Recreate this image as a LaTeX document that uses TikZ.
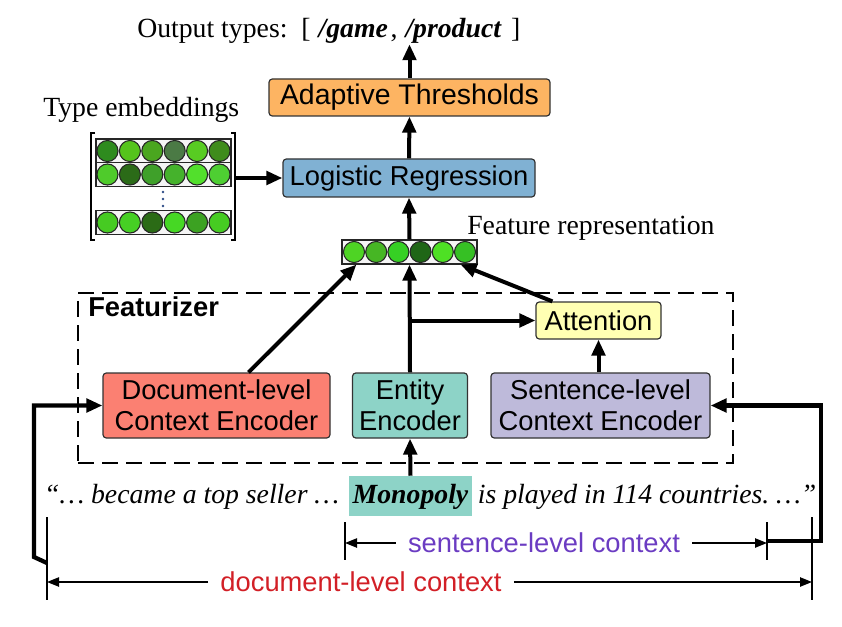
\documentclass[tikz,border=0pt]{standalone}
\usepackage{fontspec}
\setmainfont{Liberation Serif}
\setsansfont{Liberation Sans}
\usetikzlibrary{arrows.meta,calc}
\definecolor{cAdapt}{HTML}{FDB462}
\definecolor{cLog}{HTML}{80B1D3}
\definecolor{cDoc}{HTML}{FB8072}
\definecolor{cEnt}{HTML}{8DD3C7}
\definecolor{cSent}{HTML}{BEBADA}
\definecolor{cAttn}{HTML}{FFFFB3}
\definecolor{cPurp}{HTML}{6B3CC2}
\definecolor{cRed}{HTML}{D21F26}
\definecolor{cDot}{HTML}{2B4A86}
\definecolor{gA}{HTML}{2E8B1E}\definecolor{gB}{HTML}{55C41C}\definecolor{gC}{HTML}{4AA61F}
\definecolor{gD}{HTML}{4B7A45}\definecolor{gE}{HTML}{58CC22}\definecolor{gF}{HTML}{3F8C1C}
\definecolor{hA}{HTML}{4FCB2B}\definecolor{hB}{HTML}{2B6B18}\definecolor{hC}{HTML}{3FA02A}
\definecolor{hD}{HTML}{45B22C}\definecolor{hE}{HTML}{52E02C}\definecolor{hF}{HTML}{4ECF32}
\definecolor{kA}{HTML}{46CB22}\definecolor{kB}{HTML}{46D024}\definecolor{kC}{HTML}{2B6B16}
\definecolor{kD}{HTML}{46D824}\definecolor{kE}{HTML}{3CA222}\definecolor{kF}{HTML}{46CC22}
\definecolor{fA}{HTML}{4ED424}\definecolor{fB}{HTML}{46B624}\definecolor{fC}{HTML}{36D024}
\definecolor{fD}{HTML}{1F6616}\definecolor{fE}{HTML}{4EE024}\definecolor{fF}{HTML}{36C024}
\begin{document}
\begin{tikzpicture}[x=0.75pt,y=-0.75pt,
  box/.style={draw=black!80, line width=0.9pt, rounded corners=2.5pt, inner sep=0pt, align=center,
    font=\sffamily\fontsize{20.5}{23.5}\selectfont},
  sz/.style 2 args={minimum width=#1*0.75pt, minimum height=#2*0.75pt},
  conn/.style={line width=3pt, -{Triangle[length=12pt,width=10pt]}},
  loopline/.style={line width=3.2pt, -{Triangle[length=12pt,width=10pt]}},
  dimarrow/.style={line width=1pt, -{Triangle[length=9pt,width=7pt]}},
  tickline/.style={line width=0.8pt},
  serif/.style={font=\fontsize{20.8}{25}\selectfont, inner sep=0pt},
  ball/.style={draw=black!85, line width=0.8pt},
  rowbox/.style={draw=black!85, line width=0.8pt, fill=gray!8, inner sep=0pt, sz={135}{24}},
  ctxlabel/.style={font=\sffamily\fontsize{20.5}{24}\selectfont, inner xsep=9pt, inner ysep=0pt},
]
\useasboundingbox (0,0) rectangle (842,627);

% featurizer frame
\node[draw, line width=1.5pt, dash pattern=on 12pt off 6pt, sz={655}{170}, inner sep=0pt] (feat) at (405.5,378) {};
\node[anchor=base west, inner sep=0pt, font=\sffamily\bfseries\fontsize{20.5}{24}\selectfont] (featlbl) at (88,316) {Featurizer};

% texts
\node[serif, anchor=base west] (out) at (137,38) {Output types:~~[\hspace{6pt}\textbf{\textit{/game}}\hspace{2pt},\hspace{6pt}\textbf{\textit{/product}}\hspace{7pt}]};
\node[serif, anchor=base west] (tel) at (43,117) {Type embeddings};
\node[serif, anchor=base west] (frl) at (467,235) {Feature representation};

% boxes
\node[box, fill=cAdapt, sz={281}{37}, font=\sffamily\fontsize{21.3}{24}\selectfont] (adapt) at (409.5,97.5) {Adaptive Thresholds};
\node[box, fill=cLog, sz={252}{38}] (logreg) at (409,178) {Logistic Regression};
\node[box, fill=cAttn, sz={125}{37}] (attn) at (598.5,320.5) {Attention};
\node[box, fill=cDoc, sz={227}{65}] (docenc) at (216.5,405.5) {Document-level\\Context Encoder};
\node[box, fill=cEnt, sz={115}{65}] (entenc) at (410,405.5) {Entity\\Encoder};
\node[box, fill=cSent, sz={219}{65}] (sentenc) at (600.5,405.5) {Sentence-level\\Context Encoder};

% feature vector
\node[rowbox] (fv) at (409.5,252) {};
\foreach \c [count=\i from 0] in {fA,fB,fC,fD,fE,fF}
  \draw[ball, fill=\c] ({354+\i*22.2},252) circle[radius=7.9pt];

% type embedding matrix
\node[sz={145}{107}, inner sep=0pt] (emb) at (163.5,186.5) {};
\node[rowbox] (r1) at (163.5,151) {};
\node[rowbox] (r2) at (163.5,174.5) {};
\node[rowbox] (r3) at (163.5,222.5) {};
\foreach \c [count=\i from 0] in {gA,gB,gC,gD,gE,gF}
  \draw[ball, fill=\c] ({107.5+\i*22.4},151) circle[radius=7.9pt];
\foreach \c [count=\i from 0] in {hA,hB,hC,hD,hE,hF}
  \draw[ball, fill=\c] ({107.5+\i*22.4},174.5) circle[radius=7.9pt];
\foreach \c [count=\i from 0] in {kA,kB,kC,kD,kE,kF}
  \draw[ball, fill=\c] ({107.5+\i*22.4},222.5) circle[radius=7.9pt];
\foreach \y in {192,199,206} \fill[cDot] (163,\y) circle[radius=1.1pt];
\draw[tickline] (95,133) -- (91,133) -- (91,240) -- (95,240);
\draw[tickline] (231,133) -- (235,133) -- (235,240) -- (231,240);

% sentence
\node[serif, fill=cEnt, anchor=base, text height=20.25pt, text depth=9.75pt, minimum width=92.25pt,
  font=\bfseries\itshape\fontsize{20.8}{25}\selectfont] (mono) at (410.5,503) {Monopoly};
\node[serif, anchor=base east, font=\itshape\fontsize{20.8}{25}\selectfont] (sleft) at ([xshift=-7pt]mono.base west) {“\ldots\ became a top seller \ldots};
\node[serif, anchor=base west, font=\itshape\fontsize{20.8}{25}\selectfont] (sright) at ([xshift=4pt]mono.base east) {is played in 114 countries.\ \ldots”};

% connectors
\draw[conn] (fv.north) -- (logreg.south);
\draw[conn] (logreg.north) -- (adapt.south);
\draw[conn] (adapt.north) -- (adapt.north |- out.south);
\draw[conn] (emb.east |- logreg.west) -- (logreg.west);
\draw[conn] ([xshift=24pt]docenc.north) -- ([xshift=11.25pt]fv.south west);
\draw[conn] (entenc.north) -- (fv.south);
\coordinate (br) at (entenc.north |- attn.west);
\draw[conn] (br) -- (attn.west);
\draw[conn] ([xshift=12.75pt]attn.north west) -- ([xshift=-12.75pt]fv.south east);
\draw[conn] (attn.south |- sentenc.north) -- (attn.south);
\draw[conn] (mono.north) -- (entenc.south);

% context loops
\coordinate (dl) at (47,563);
\draw[loopline] (dl) -- ++(-13,-6) |- (docenc.west);
\coordinate (sr0) at (767,541);
\draw[loopline] (sr0) -- ++(54,0) |- (sentenc.east);

% context spans
\draw[tickline] (345,522) -- (345,560);
\draw[tickline] (767,522) -- (767,560);
\draw[tickline] (47,517) -- (47,600);
\draw[tickline] (812,517) -- (812,600);
\coordinate (sL) at (345,543);
\coordinate (sR) at (767,543);
\coordinate (dL) at (47,582);
\coordinate (dR) at (812,582);
\node[ctxlabel, text=cPurp] (slab) at (544,543) {sentence-level context};
\node[ctxlabel, text=cRed] (dlab) at (361,582) {document-level context};
\draw[dimarrow] (slab.west) -- (sL);
\draw[dimarrow] (slab.east) -- (sR);
\draw[dimarrow] (dlab.west) -- (dL);
\draw[dimarrow] (dlab.east) -- (dR);
\end{tikzpicture}
\end{document}
